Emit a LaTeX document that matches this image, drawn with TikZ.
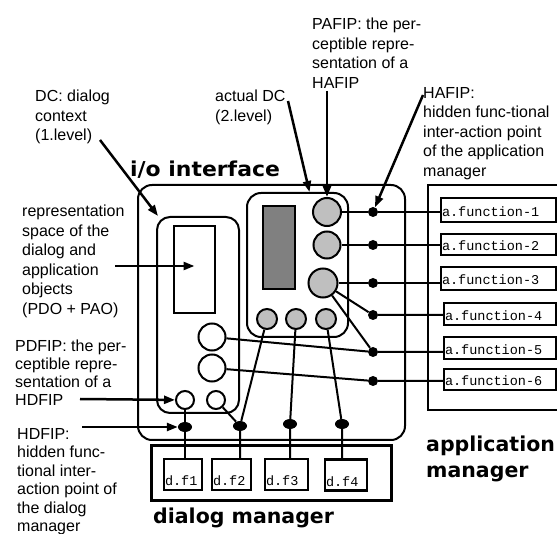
\documentclass[tikz,border=0pt]{standalone}
\usepackage{fontspec}
\setmainfont{Liberation Sans}
\newfontfamily\monofnt{Liberation Mono}
\newfontfamily\titlefnt{DejaVu Sans}
\usetikzlibrary{arrows.meta,shapes.geometric}

\begin{document}
\begin{tikzpicture}[
  x=1pt,y=-1pt,
  frame/.style={draw,line width=2pt,rounded corners=14pt,inner sep=0pt},
  plainbox/.style={draw,line width=2pt,inner sep=0pt},
  fnbox/.style={draw,line width=2.5pt,inner xsep=1pt,inner ysep=2pt,text width=#1,
                text height=15pt,text depth=2pt,align=left,
                font=\monofnt\fontsize{13.5}{14}\selectfont},
  dfbox/.style={draw,line width=2.5pt,inner xsep=1pt,inner ysep=3.5pt,text width=#1,
                text height=23pt,text depth=1pt,align=left,
                font=\monofnt\fontsize{13.5}{14}\selectfont},
  pcirc/.style={circle,draw,line width=2pt,fill=black!25,inner sep=0pt,minimum size=#1},
  wcirc/.style={circle,draw,line width=2pt,fill=white,inner sep=0pt,minimum size=#1},
  hdot/.style={circle,fill=black,inner sep=0pt,minimum size=10pt},
  ddot/.style={ellipse,fill=black,inner sep=0pt,minimum width=14pt,minimum height=10pt},
  note/.style={anchor=north west,inner sep=0pt,align=left,font=\fontsize{16}{19.5}\selectfont},
  ttl/.style={anchor=base west,inner sep=0pt,font=\titlefnt\bfseries\fontsize{20.5}{24}\selectfont},
  wire/.style={line width=2pt},
  arr/.style={line width=2.5pt,-{Triangle[length=11pt,width=8pt]}}
]
\useasboundingbox (0,0) rectangle (557,534);
\clip (0,0) rectangle (557,534);

% frames
\node[frame,minimum width=267pt,minimum height=255pt] (io) at (271.5,312.5) {};
\node[frame,rounded corners=13pt,minimum width=82pt,minimum height=196pt] (dcone) at (198,315) {};
\node[frame,minimum width=101pt,minimum height=144pt] (dctwo) at (297.5,265) {};
\node[plainbox,minimum width=41pt,minimum height=87pt] (repr) at (194.5,269.5) {};
\node[plainbox,fill=black!50,minimum width=32pt,minimum height=83pt] (screen) at (279,247.5) {};
\node[plainbox,minimum width=140pt,minimum height=225pt] (appmgr) at (498,297.5) {};
\node[plainbox,line width=3pt,minimum width=240pt,minimum height=54pt] (dlgmgr) at (271,473) {};

% application functions
\node[fnbox=113pt,minimum height=24pt] (af1) at (498.5,210) {a.function-1};
\node[fnbox=113pt] (af2) at (498.5,244.5) {a.function-2};
\node[fnbox=113pt,minimum height=23pt] (af3) at (498.5,278.5) {a.function-3};
\node[fnbox=110pt,minimum height=22pt] (af4) at (500,314) {a.function-4};
\node[fnbox=110pt,minimum height=22pt] (af5) at (500,348) {a.function-5};
\node[fnbox=110pt] (af6) at (500,379.5) {a.function-6};

% dialog functions
\node[dfbox=36pt] (df1) at (183,474.5) {d.f1};
\node[dfbox=37pt] (df2) at (231.5,474.5) {d.f2};
\node[dfbox=41pt] (df3) at (286.5,474.5) {d.f3};
\node[dfbox=40pt] (df4) at (346,475) {d.f4};

% PAFIPs and PDFIPs
\node[pcirc=28pt] (p1) at (327,212) {};
\node[pcirc=27pt] (p2) at (327,245) {};
\node[pcirc=29pt] (p3) at (323,283) {};
\node[pcirc=20pt] (q1) at (267,319) {};
\node[pcirc=20pt] (q2) at (296,319) {};
\node[pcirc=20pt] (q3) at (326,319) {};
\node[wcirc=27pt] (w1) at (212,337) {};
\node[wcirc=27pt] (w2) at (212,368) {};
\node[wcirc=18pt] (s1) at (185,400) {};
\node[wcirc=18pt] (s2) at (216,400) {};

% HAFIPs and HDFIPs
\node[hdot] (h1) at (373,212) {};
\node[hdot] (h2) at (373,245) {};
\node[hdot] (h3) at (373,283) {};
\node[hdot] (h4) at (373,315) {};
\node[hdot] (h5) at (373,352) {};
\node[hdot] (h6) at (373,381) {};
\node[ddot] (d1) at (185,427) {};
\node[ddot] (d2) at (240,426) {};
\node[ddot] (d3) at (290,424) {};
\node[ddot] (d4) at (342,424) {};

% wiring
\draw[wire] (p1) -- (h1) -- (h1 -| af1.west);
\draw[wire] (p2) -- (h2) -- (h2 -| af2.west);
\draw[wire] (p3) -- (h3) -- (h3 -| af3.west);
\draw[wire] (p3) -- (h4) -- (h4 -| af4.west);
\draw[wire] (p3) -- (h5) -- (h5 -| af5.west);
\draw[wire] (w1) -- (h5);
\draw[wire] (w2) -- (h6) -- (h6 -| af6.west);
\draw[wire] (s1) -- (d1) -- (d1 |- df1.north);
\draw[wire] (s2) -- (d2) -- (d2 |- df2.north);
\draw[wire] (q1) -- (d2);
\draw[wire] (q2) -- (d3) -- (d3 |- df3.north);
\draw[wire] (q3) -- (d4) -- (d4 |- df4.north);

% titles
\node[ttl] (ioname) at (130,177) {\scalebox{1.07}[1]{i/o interface}};
\node[ttl] (appname) at (426,452) {application};
\node[ttl] (appname2) at (426,478) {manager};
\node[ttl] (dlgname) at (153,523) {dialog manager};

% notes
\node[note] (dcnote) at (35,90) {DC: dialog\\context\\(1.level)};
\node[note] (acnote) at (215,90) {actual DC\\(2.level)};
\node[note] (pafnote) at (312,18) {PAFIP: the per-\\ceptible repre-\\sentation of a\\HAFIP};
\node[note] (hafnote) at (423,87) {HAFIP:\\hidden func-tional\\inter-action point\\of the application\\manager};
\node[note] (repnote) at (22,205) {representation\\space of the\\dialog and\\application\\objects\\(PDO + PAO)};
\node[note,font=\fontsize{16}{18}\selectfont] (pdfnote) at (15,340) {PDFIP: the per-\\ceptible repre-\\sentation of a\\HDFIP};
\node[note,font=\fontsize{16}{18.5}\selectfont] (hdfnote) at (17,428) {HDFIP:\\hidden func-\\tional inter-\\action point of\\the dialog\\manager};

% pointers
\coordinate (dcend) at (100,140);
\coordinate (acend) at (288,101);
\coordinate (pafend) at (327,91);
\coordinate (hafend) at (423,95);
\coordinate (repend) at (115,266);
\coordinate (pdfend) at (80,399);
\coordinate (hdfend) at (82,427);
\draw[arr] (dcend) -- ([xshift=2pt]dcone.north west);
\draw[arr] (acend) -- ([xshift=12pt]dctwo.north);
\draw[arr] (pafend) -- (p1.north);
\draw[arr] (hafend) -- (h1);
\draw[arr] (repend) -- (repend -| repr.center);
\draw[arr] (pdfend) -- (s1);
\draw[arr] (hdfend) -- (d1);
\end{tikzpicture}
\end{document}
